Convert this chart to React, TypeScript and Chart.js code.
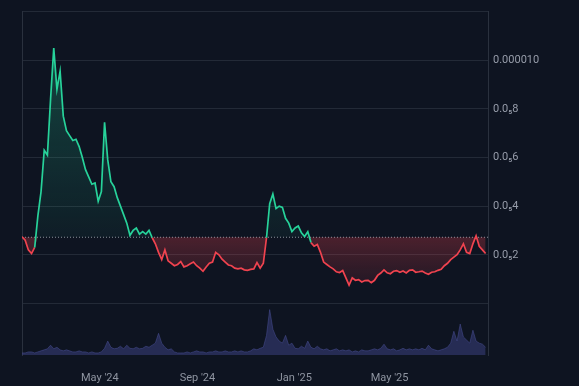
import React, { useEffect, useRef } from 'react';
import { Chart, registerables } from 'chart.js';

Chart.register(...registerables);

// ---- data (price in millionths, i.e. value × 1e-6) ----
// one sample every 4 days, starting 2024-01-24 (day 0)
const STEP_DAYS = 4;
const PRICE_MICRO: number[] = [
  2.74, 2.6, 2.2, 2.05, 2.3, 3.6, 4.6, 6.3, 6.1, 8.4,
  10.5, 8.8, 9.55, 7.7, 7.1, 6.9, 6.7, 6.75, 6.45, 6.0,
  5.5, 5.2, 4.9, 4.95, 4.2, 4.6, 7.45, 5.9, 5.0, 4.8,
  4.35, 4.0, 3.65, 3.3, 2.8, 3.0, 3.1, 2.85, 2.95, 2.85,
  3.0, 2.7, 2.45, 2.1, 1.8, 2.2, 1.75, 1.65, 1.55, 1.6,
  1.72, 1.5, 1.55, 1.63, 1.7, 1.55, 1.45, 1.32, 1.5, 1.65,
  1.7, 2.1, 2.0, 1.82, 1.7, 1.58, 1.55, 1.45, 1.42, 1.45,
  1.38, 1.36, 1.4, 1.42, 1.68, 1.45, 1.65, 2.7, 4.1, 4.5,
  3.9, 4.0, 3.95, 3.5, 3.3, 2.95, 3.1, 3.18, 2.9, 2.75,
  2.95, 2.5, 2.35, 2.42, 2.1, 1.7, 1.6, 1.5, 1.42, 1.3,
  1.27, 1.35, 1.05, 0.75, 1.05, 0.95, 0.98, 0.88, 0.94, 0.95,
  0.85, 0.95, 1.15, 1.25, 1.38, 1.26, 1.22, 1.32, 1.35, 1.28,
  1.33, 1.25, 1.36, 1.38, 1.28, 1.3, 1.33, 1.25, 1.2, 1.28,
  1.3, 1.36, 1.4, 1.55, 1.65, 1.8, 1.9, 2.0, 2.2, 2.45,
  2.1, 2.05, 2.45, 2.78, 2.35, 2.2, 2.05,
];
const VOLUME: number[] = [
  4, 4, 6, 6, 4, 6, 8, 10, 12, 19,
  12, 15, 10, 8, 10, 8, 6, 6, 8, 6,
  6, 4, 6, 4, 4, 6, 13, 27, 15, 12,
  13, 17, 12, 19, 13, 12, 15, 12, 13, 17,
  15, 19, 23, 42, 23, 15, 10, 12, 6, 4,
  4, 4, 6, 4, 6, 8, 6, 6, 4, 6,
  6, 8, 6, 6, 8, 6, 6, 8, 6, 8,
  6, 6, 8, 12, 10, 13, 15, 38, 88, 50,
  35, 27, 23, 38, 19, 23, 13, 12, 17, 13,
  27, 15, 12, 17, 12, 10, 12, 8, 10, 12,
  8, 10, 8, 10, 6, 8, 6, 10, 8, 8,
  10, 12, 10, 13, 21, 12, 10, 12, 8, 10,
  13, 10, 12, 10, 12, 10, 13, 10, 19, 12,
  10, 8, 10, 12, 15, 23, 46, 27, 60, 35,
  29, 23, 48, 27, 23, 21, 15,
];
const BASE_PRICE_MICRO = 2.72; // dotted reference line
const X_MAX_DAY = 587;
const X_TICK_DAYS = [98, 221, 343, 463];
const X_TICK_LABELS = ["May '24", "Sep '24", "Jan '25", "May '25"];
const Y_TICK_VALUES = [0, 2, 4, 6, 8, 10, 12];
const Y_TICK_LABELS = ['', '0.0₅2', '0.0₅4', '0.0₅6', '0.0₅8', '0.000010', ''];

// ---- styles ----
const BG = '#0e1421';
const GREEN = '#27d29a';
const RED = '#f0434f';
const GRID = '#232a37';
const FONT = 'Roboto, "DejaVu Sans", sans-serif';

export default function App() {
  const ref = useRef<HTMLCanvasElement>(null);

  useEffect(() => {
    document.body.style.margin = '0';
    document.body.style.background = BG;
    const days = PRICE_MICRO.map((_, i) => i * STEP_DAYS);
    const pMax = Math.max(...PRICE_MICRO);
    const pMin = Math.min(...PRICE_MICRO);

    const greenFill = (c: any) => {
      const chart = c.chart;
      const y = chart.scales && chart.scales.y;
      if (!y || !chart.chartArea) return 'rgba(39,210,154,0.15)';
      const g = chart.ctx.createLinearGradient(0, y.getPixelForValue(pMax), 0, y.getPixelForValue(BASE_PRICE_MICRO));
      g.addColorStop(0, 'rgba(39,210,154,0.26)');
      g.addColorStop(1, 'rgba(39,210,154,0.05)');
      return g;
    };
    const redFill = (c: any) => {
      const chart = c.chart;
      const y = chart.scales && chart.scales.y;
      if (!y || !chart.chartArea) return 'rgba(240,67,79,0.2)';
      const g = chart.ctx.createLinearGradient(0, y.getPixelForValue(BASE_PRICE_MICRO), 0, y.getPixelForValue(pMin));
      g.addColorStop(0, 'rgba(240,67,79,0.27)');
      g.addColorStop(1, 'rgba(240,67,79,0.09)');
      return g;
    };

    const chart = new Chart(ref.current!, {
      type: 'line',
      data: {
        datasets: [
          {
            label: 'price',
            data: days.map((d, i) => ({ x: d, y: PRICE_MICRO[i] })),
            yAxisID: 'y',
            borderWidth: 1.7,
            borderColor: GREEN,
            segment: {
              borderColor: (s: any) =>
                (s.p0.parsed.y + s.p1.parsed.y) / 2 >= BASE_PRICE_MICRO ? GREEN : RED,
            },
            pointRadius: 0,
            fill: false,
            order: 0,
          },
          {
            label: 'base',
            data: [
              { x: 0, y: BASE_PRICE_MICRO },
              { x: X_MAX_DAY, y: BASE_PRICE_MICRO },
            ],
            yAxisID: 'y',
            borderColor: 'rgba(190,195,205,0.7)',
            borderWidth: 1,
            borderDash: [1, 2],
            pointRadius: 0,
            fill: false,
            order: 1,
          },
          {
            label: 'above',
            data: days.map((d, i) => ({ x: d, y: Math.max(PRICE_MICRO[i], BASE_PRICE_MICRO) })),
            yAxisID: 'y',
            borderWidth: 0,
            pointRadius: 0,
            backgroundColor: greenFill,
            fill: { value: BASE_PRICE_MICRO },
            order: 2,
          },
          {
            label: 'below',
            data: days.map((d, i) => ({ x: d, y: Math.min(PRICE_MICRO[i], BASE_PRICE_MICRO) })),
            yAxisID: 'y',
            borderWidth: 0,
            pointRadius: 0,
            backgroundColor: redFill,
            fill: { value: BASE_PRICE_MICRO },
            order: 3,
          },
          {
            label: 'volume',
            data: days.map((d, i) => ({ x: d, y: VOLUME[i] })),
            yAxisID: 'yV',
            borderWidth: 1,
            borderColor: 'rgba(76,82,152,0.5)',
            backgroundColor: 'rgba(62,68,135,0.5)',
            pointRadius: 0,
            fill: 'origin',
            order: 4,
          },
        ],
      } as any,
      options: {
        animation: false,
        responsive: true,
        maintainAspectRatio: false,
        layout: { padding: { left: 22, top: 9, right: 0, bottom: 0 } },
        plugins: { legend: { display: false }, tooltip: { enabled: false } },
        elements: { line: { tension: 0 } },
        scales: {
          x: {
            type: 'linear',
            min: 0,
            max: X_MAX_DAY,
            grid: { display: false },
            border: { display: false },
            afterBuildTicks: (axis: any) => {
              axis.ticks = X_TICK_DAYS.map((value) => ({ value }));
            },
            afterFit: (axis: any) => {
              axis.height = 31;
            },
            ticks: {
              autoSkip: false,
              maxRotation: 0,
              padding: 9,
              color: '#8e94a0',
              font: { family: FONT, size: 11 },
              callback: (v: any) => {
                const k = X_TICK_DAYS.indexOf(Number(v));
                return k >= 0 ? X_TICK_LABELS[k] : '';
              },
            },
          },
          y: {
            type: 'linear',
            position: 'right',
            stack: 'panes',
            stackWeight: 294,
            min: 0,
            max: 12,
            afterBuildTicks: (axis: any) => {
              axis.ticks = Y_TICK_VALUES.map((value) => ({ value }));
            },
            afterFit: (axis: any) => {
              axis.width = 91;
            },
            grid: { color: GRID, lineWidth: 1, drawTicks: false },
            border: { display: true, color: '#2a313e' },
            ticks: {
              padding: 5,
              color: '#979daa',
              font: { family: FONT, size: 11 },
              callback: (v: any) => {
                const k = Y_TICK_VALUES.indexOf(Number(v));
                return k >= 0 ? Y_TICK_LABELS[k] : '';
              },
            },
          },
          yV: {
            type: 'linear',
            position: 'right',
            stack: 'panes',
            stackWeight: 52,
            min: 0,
            max: 100,
            afterFit: (axis: any) => {
              axis.width = 91;
            },
            grid: { display: false, drawTicks: false },
            border: { display: true, color: '#2a313e' },
            ticks: { display: false },
          },
          yL: {
            type: 'linear',
            position: 'left',
            min: 0,
            max: 1,
            afterFit: (axis: any) => {
              axis.width = 0;
            },
            grid: { display: false, drawTicks: false },
            border: { display: true, color: '#2a313e' },
            ticks: { display: false },
          },
        },
      } as any,
    });
    return () => chart.destroy();
  }, []);

  return (
    <div style={{ position: 'relative', width: 579, height: 386, background: BG }}>
      <canvas ref={ref} />
    </div>
  );
}
